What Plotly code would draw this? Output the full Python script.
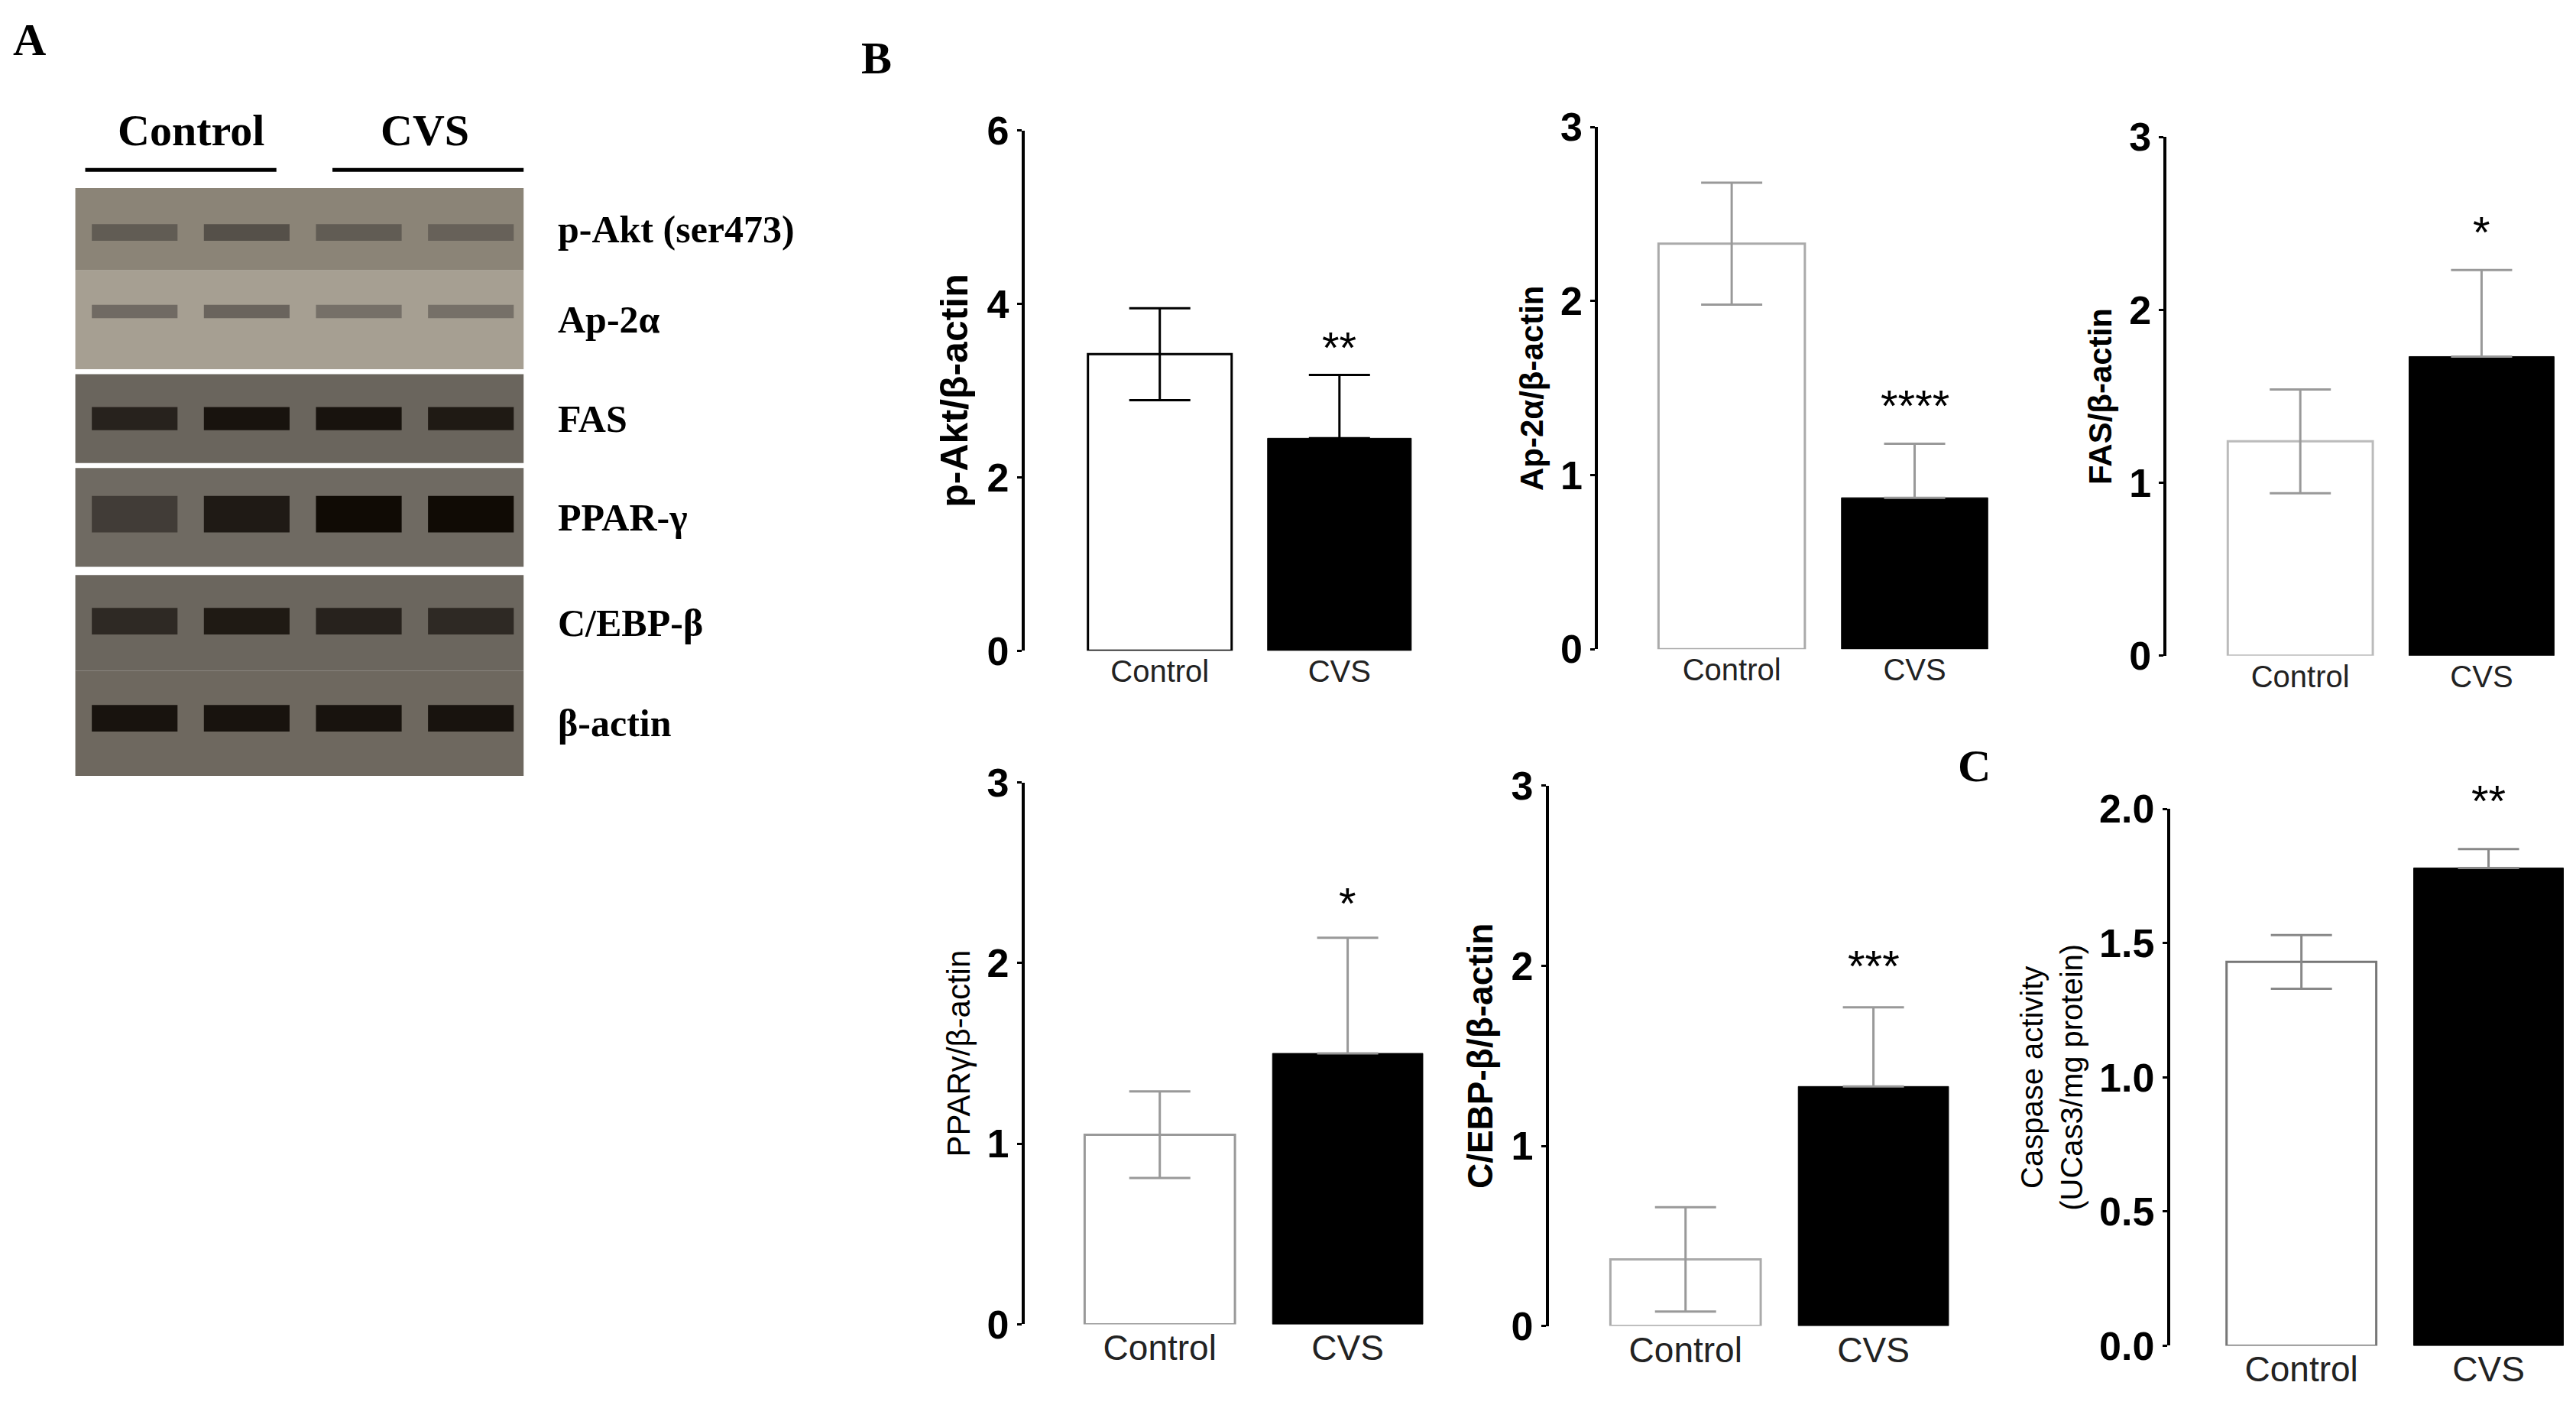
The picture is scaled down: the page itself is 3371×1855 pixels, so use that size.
import plotly.graph_objects as go

W, H = 3371, 1855
SX, SY = W / 1563, H / 855  # reference was measured on a 1563x855 view

groups = ["Control", "CVS"]

# bar panels: means, errors (control +/-, CVS up only), star text and height
pakt_mean = [3.42, 2.45]
pakt_err = [0.53, 0.73]
ap2a_mean = [2.33, 0.87]
ap2a_err = [0.35, 0.31]
fas_mean = [1.24, 1.73]
fas_err = [0.30, 0.50]
ppar_mean = [1.05, 1.50]
ppar_err = [0.24, 0.64]
cebp_mean = [0.37, 1.33]
cebp_err = [0.29, 0.44]
casp_mean = [1.43, 1.78]
casp_err = [0.10, 0.07]

stars = ["**", "****", "*", "*", "***", "**"]
star_y = [3.5, 1.4, 2.45, 2.33, 2.0, 2.03]

# western blot
blot_rows = ["p-Akt (ser473)", "Ap-2α", "FAS", "PPAR-γ", "C/EBP-β", "β-actin"]
row_top = [115, 165, 228, 285, 350, 408]
row_bot = [165, 225, 282, 345, 408, 472]
row_bg = ["#8b8477", "#a69f92", "#6a655d", "#6f6a62", "#6b665e", "#6e685f"]
band_y = [142, 190, 255, 313, 378, 437]
band_dark = [[0.35, 0.45, 0.35, 0.3], [0.3, 0.35, 0.25, 0.25], [0.75, 0.85, 0.85, 0.8],
             [0.55, 0.8, 0.9, 0.9], [0.7, 0.8, 0.75, 0.7], [0.85, 0.85, 0.85, 0.85]]
band_thick = [10, 8, 14, 22, 16, 16]
lanes = [82, 150, 218, 286]

X_OFF, Y_OFF, Y_K = 4, 18, 0.9756  # page offset correction


def px(x):
    return min(max((x - X_OFF) * SX / W, 0.0), 1.0)


def py(y):
    return min(max(1 - (y - Y_OFF) / Y_K * SY / H, 0.0), 1.0)


fig = go.Figure()

# full-figure overlay axis in reference pixel units, used for the blot
fig.update_layout(xaxis7=dict(domain=[0, 1], range=[X_OFF, X_OFF + 1563], visible=False, fixedrange=True),
                  yaxis7=dict(domain=[0, 1], range=[Y_OFF + Y_K * 855, Y_OFF], visible=False, fixedrange=True))
for i, name in enumerate(blot_rows):
    fig.add_shape(type="rect", xref="x7", yref="y7", x0=46, x1=318, y0=row_top[i], y1=row_bot[i],
                  fillcolor=row_bg[i], line_width=0, layer="below")
    for j, cx in enumerate(lanes):
        d = band_dark[i][j]
        g = int(120 * (1 - d))
        fig.add_trace(go.Scatter(x=[cx - 26, cx + 26], y=[band_y[i], band_y[i]], mode="lines",
                                 line=dict(color=f"rgb({g},{max(g - 5, 0)},{max(g - 10, 0)})",
                                           width=band_thick[i] * SY),
                                 opacity=0.5 + 0.5 * d, xaxis="x7", yaxis="y7",
                                 showlegend=False, hoverinfo="skip"))
    fig.add_annotation(text=f"<b>{name}</b>", x=px(338), y=py((row_top[i] + row_bot[i]) / 2),
                       xref="paper", yref="paper", xanchor="left", yanchor="middle", showarrow=False,
                       font=dict(family="Liberation Serif", size=50, color="black"))

for label, cx, x0, x1 in [("Control", 116, 52, 168), ("CVS", 258, 202, 318)]:
    fig.add_annotation(text=f"<b>{label}</b>", x=px(cx), y=py(80), xref="paper", yref="paper",
                       xanchor="center", yanchor="middle", showarrow=False,
                       font=dict(family="Liberation Serif", size=58, color="black"))
    fig.add_shape(type="line", xref="paper", yref="paper", x0=px(x0), x1=px(x1), y0=py(104), y1=py(104),
                  line=dict(color="black", width=5))

for letter, x, y in [("A", 18, 25), ("B", 532, 36), ("C", 1198, 466)]:
    fig.add_annotation(text=f"<b>{letter}</b>", x=px(x), y=py(y), xref="paper", yref="paper",
                       xanchor="center", yanchor="middle", showarrow=False,
                       font=dict(family="Liberation Serif", size=60, color="black"))

# axis_x, y0, ytop, first bar centre, spacing (all in reference px), ymax, dtick, title, title size/bold
panels = [
    (pakt_mean, pakt_err, 622, 396, 80, 704, 109, 6, 2, "p-Akt/β-actin", 50, True, "black", "black"),
    (ap2a_mean, ap2a_err, 970, 395, 78, 1051, 111, 3, 1, "Ap-2α/β-actin", 42, True, "#aaaaaa", "#999999"),
    (fas_mean, fas_err, 1315, 399, 84, 1396, 110, 3, 1, "FAS/β-actin", 42, True, "#bbbbbb", "#999999"),
    (ppar_mean, ppar_err, 622, 805, 476, 704, 114, 3, 1, "PPARγ/β-actin", 42, False, "#999999", "#999999"),
    (cebp_mean, cebp_err, 940, 806, 478, 1023, 114, 3, 1, "C/EBP-β/β-actin", 46, True, "#aaaaaa", "#999999"),
    (casp_mean, casp_err, 1317, 818, 492, 1397, 114, 2, 0.5, "Caspase activity<br>(UCas3/mg protein)", 40, False,
     "#777777", "#888888"),
]

for k, (mean, err, ax, y0, yt, c0, sp, ymax, dt, title, tsize, bold, outline, ecol) in enumerate(panels):
    n = k + 1
    lo = -(c0 - ax) / sp
    hi = 1.5
    xd = [px(ax), px(ax + (hi - lo) * sp)]
    yd = [py(y0), py(yt)]
    suffix = "" if n == 1 else str(n)
    xa, ya = f"x{suffix}", f"y{suffix}"
    fig.add_trace(go.Bar(x=[0], y=[mean[0]], width=0.8, marker=dict(color="white", line=dict(color=outline, width=3)),
                         error_y=dict(type="data", array=[err[0]], color=ecol, thickness=3, width=40),
                         xaxis=xa, yaxis=ya, showlegend=False))
    fig.add_trace(go.Bar(x=[1], y=[mean[1]], width=0.8, marker=dict(color="black", line=dict(color="black", width=1)),
                         error_y=dict(type="data", array=[err[1]], arrayminus=[0], symmetric=False,
                                      color=ecol, thickness=3, width=40),
                         xaxis=xa, yaxis=ya, showlegend=False))
    fig.add_annotation(x=1, y=star_y[k] / ymax, xref=xa, yref=f"{ya} domain", text=stars[k], showarrow=False,
                       yanchor="middle", font=dict(family="Liberation Sans", size=58, color="black"))
    fig.layout[f"xaxis{n}"] = dict(domain=xd, range=[lo, hi], anchor=ya, tickvals=[0, 1], ticktext=groups,
                                   showline=False, showgrid=False, zeroline=False, ticks="",
                                   tickfont=dict(family="Liberation Sans", size=40 if k < 3 else 46,
                                                 color="#222"), fixedrange=True)
    ttxt = f"<b>{title}</b>" if bold else title
    fig.layout[f"yaxis{n}"] = dict(domain=yd, range=[0, ymax], anchor=xa, dtick=dt,
                                   tickformat=".1f" if dt < 1 else "d",
                                   showline=True, linecolor="black", linewidth=4, ticks="outside",
                                   ticklen=6, tickwidth=3, tickcolor="black", showgrid=False, zeroline=False,
                                   tickfont=dict(family="Liberation Sans", size=52, color="black", weight="bold"),
                                   title=dict(text=ttxt, font=dict(family="Liberation Sans", size=tsize, color="black"),
                                              standoff=10), fixedrange=True)

fig.update_layout(width=W, height=H, margin=dict(l=0, r=0, t=0, b=0), paper_bgcolor="white",
                  plot_bgcolor="rgba(0,0,0,0)", barmode="overlay")
fig.write_html("out.html")
